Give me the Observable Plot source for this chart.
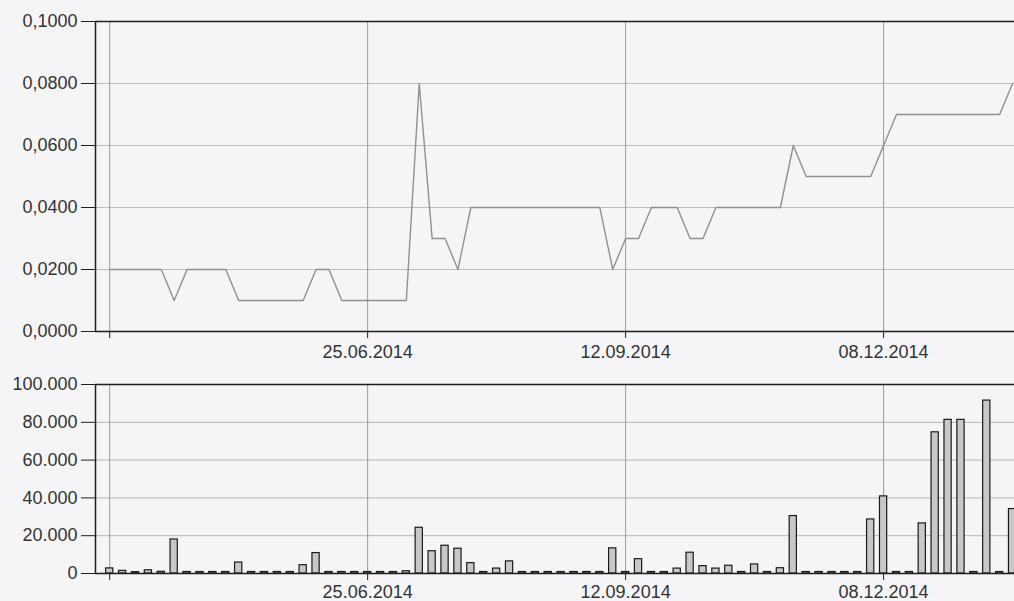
<!DOCTYPE html>
<html>
<head>
<meta charset="utf-8">
<script src="https://cdn.jsdelivr.net/npm/d3@7"></script>
<script src="https://cdn.jsdelivr.net/npm/@observablehq/plot@0.6"></script>
<style>
  html, body { margin: 0; padding: 0; background: #f5f5f7; }
  #wrap { width: 1014px; height: 601px; overflow: hidden; }
  svg { display: block; }
</style>
</head>
<body>
<div id="wrap"></div>
<script>
// Price per trading record (index 0..70)
const price = [
  0.02, 0.02, 0.02, 0.02, 0.02, 0.01, 0.02, 0.02, 0.02, 0.02,
  0.01, 0.01, 0.01, 0.01, 0.01, 0.01, 0.02, 0.02, 0.01, 0.01,
  0.01, 0.01, 0.01, 0.01, 0.08, 0.03, 0.03, 0.02, 0.04, 0.04,
  0.04, 0.04, 0.04, 0.04, 0.04, 0.04, 0.04, 0.04, 0.04, 0.02,
  0.03, 0.03, 0.04, 0.04, 0.04, 0.03, 0.03, 0.04, 0.04, 0.04,
  0.04, 0.04, 0.04, 0.06, 0.05, 0.05, 0.05, 0.05, 0.05, 0.05,
  0.06, 0.07, 0.07, 0.07, 0.07, 0.07, 0.07, 0.07, 0.07, 0.07,
  0.08
];
// Volume per trading record
const volume = [
  2700, 1400, 700, 1700, 900, 18000, 800, 800, 800, 800,
  5800, 800, 800, 800, 800, 4400, 10800, 800, 800, 800,
  800, 800, 800, 1200, 24200, 11800, 14700, 13100, 5500, 800,
  2600, 6400, 800, 800, 800, 800, 800, 800, 800, 13300,
  800, 7600, 800, 800, 2600, 11000, 3900, 2600, 4100, 800,
  4800, 800, 2800, 30400, 800, 800, 800, 800, 800, 28600,
  40800, 800, 800, 26500, 74700, 81300, 81300, 800, 91500, 800,
  34100
];
// X tick positions (record index) and their labels
const xTickIdx = [0, 20, 40, 60];
const xTickLabels = ["", "25.06.2014", "12.09.2014", "08.12.2014"];
const priceTicks = [0, 0.02, 0.04, 0.06, 0.08, 0.1];
const volumeTicks = [0, 20000, 40000, 60000, 80000, 100000];

const data = price.map((p, i) => ({i, p, v: volume[i]}));
const xDomain = [-1.1, 70.15];
const xFmt = t => xTickLabels[xTickIdx.indexOf(t)] ?? "";
const pFmt = t => d3.format(".4f")(t).replace(".", ",");
const vFmt = t => d3.format(",")(t).replace(/,/g, ".");

const baseStyle = {fontFamily: "'Liberation Sans', Arial, sans-serif", fontSize: "18px", background: "transparent", color: "#333", overflow: "visible"};
const axisColor = "#1e1e1e";

const priceChart = Plot.plot({
  width: 1014, height: 362,
  marginLeft: 95, marginRight: 0, marginTop: 21, marginBottom: 31,
  style: baseStyle,
  x: {domain: xDomain},
  y: {domain: [0, 0.1]},
  marks: [
    Plot.gridY(priceTicks, {stroke: "#bdbdbd", strokeOpacity: 1}),
    Plot.gridX(xTickIdx, {stroke: "#9a9a9a", strokeOpacity: 1}),
    Plot.line(data, {x: "i", y: "p", stroke: "#909090", strokeWidth: 1.4}),
    Plot.ruleY([0, 0.1], {stroke: axisColor, strokeWidth: 1.5}),
    Plot.ruleX([xDomain[0]], {stroke: axisColor, strokeWidth: 1.5}),
    Plot.axisY(priceTicks, {tickSize: 14, tickPadding: 4, tickFormat: pFmt, stroke: axisColor, label: null}),
    Plot.axisX(xTickIdx, {tickSize: 7, tickPadding: 7, tickFormat: xFmt, stroke: axisColor, label: null})
  ]
});

const volumeChart = Plot.plot({
  width: 1014, height: 239,
  marginLeft: 95, marginRight: 0, marginTop: 22, marginBottom: 28,
  style: baseStyle,
  x: {domain: xDomain},
  y: {domain: [0, 100000]},
  marks: [
    Plot.gridY(volumeTicks, {stroke: "#b5b5b5", strokeOpacity: 1}),
    Plot.gridX(xTickIdx, {stroke: "#9a9a9a", strokeOpacity: 1}),
    Plot.rectY(data, {x1: d => d.i - 0.28, x2: d => d.i + 0.28, y: "v", fill: "#c8c8c8", stroke: "#1a1a1a", strokeWidth: 1.2}),
    Plot.ruleY([0, 100000], {stroke: axisColor, strokeWidth: 1.5}),
    Plot.ruleX([xDomain[0]], {stroke: axisColor, strokeWidth: 1.5}),
    Plot.axisY(volumeTicks, {tickSize: 14, tickPadding: 4, tickFormat: vFmt, stroke: axisColor, label: null}),
    Plot.axisX(xTickIdx, {tickSize: 7, tickPadding: 5, tickFormat: xFmt, stroke: axisColor, label: null})
  ]
});

const wrap = document.getElementById("wrap");
wrap.appendChild(priceChart);
wrap.appendChild(volumeChart);
</script>
</body>
</html>
